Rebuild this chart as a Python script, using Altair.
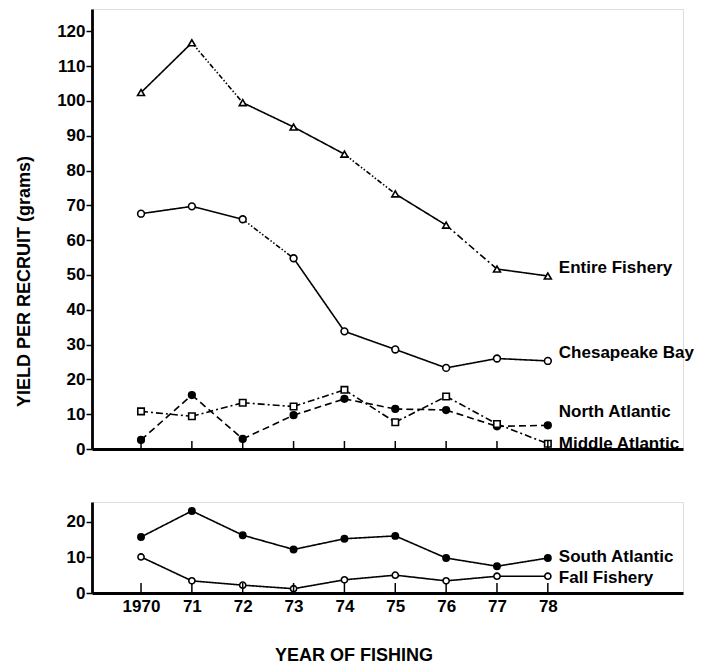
import altair as alt
import pandas as pd

# ---------------- data ----------------
years = [1970, 1971, 1972, 1973, 1974, 1975, 1976, 1977, 1978]
year_labels = ["1970", "71", "72", "73", "74", "75", "76", "77", "78"]

entire_fishery = [102.4, 116.7, 99.5, 92.5, 84.7, 73.3, 64.3, 51.7, 49.7]
chesapeake_bay = [67.6, 69.7, 66.0, 54.8, 33.8, 28.6, 23.3, 26.0, 25.3]
north_atlantic = [2.6, 15.5, 2.9, 9.7, 14.4, 11.5, 11.2, 6.5, 6.8]
middle_atlantic = [10.8, 9.4, 13.3, 12.2, 17.0, 7.7, 15.1, 7.2, 1.5]
south_atlantic = [15.7, 23.0, 16.2, 12.2, 15.2, 16.0, 9.8, 7.5, 9.8]
fall_fishery = [10.1, 3.4, 2.2, 1.2, 3.7, 5.0, 3.4, 4.7, 4.7]

top_series = {
    "Entire Fishery": entire_fishery,
    "Chesapeake Bay": chesapeake_bay,
    "North Atlantic": north_atlantic,
    "Middle Atlantic": middle_atlantic,
}
bottom_series = {
    "South Atlantic": south_atlantic,
    "Fall Fishery": fall_fishery,
}

# ---------------- styles ----------------
FONT = "Liberation Sans"
seg_styles = {
    "Entire Fishery": ["solid", "dashdotdot", "solid", "solid", "dashdotdot", "solid", "dashdot", "solid"],
    "Chesapeake Bay": ["solid", "solid", "dashdotdot", "solid", "solid", "solid", "solid", "solid"],
    "North Atlantic": ["dashed"] * 8,
    "Middle Atlantic": ["dashdot"] * 8,
    "South Atlantic": ["solid"] * 8,
    "Fall Fishery": ["solid"] * 8,
}
dash_domain = ["solid", "dashed", "dashdot", "dashdotdot"]
dash_range = [[1, 0], [7, 4], [7, 3, 2, 3], [5, 2, 1.5, 2, 1.5, 2]]

marker_domain = ["Entire Fishery", "Chesapeake Bay", "North Atlantic", "Middle Atlantic",
                 "South Atlantic", "Fall Fishery"]
marker_shape = ["triangle-up", "circle", "circle", "square", "circle", "circle"]
marker_fill = ["white", "white", "black", "white", "black", "white"]
marker_size = [48, 38, 7, 38, 16, 38]
marker_stroke = [1.6, 1.6, 0.5, 1.6, 0.8, 1.6]

label_dy = {
    "Entire Fishery": -8, "Chesapeake Bay": -8, "North Atlantic": -13,
    "Middle Atlantic": 0, "South Atlantic": -1, "Fall Fishery": 2,
}

W = 591
H_TOP = 440
H_BOT = 91
X_DOMAIN = [1969.036, 1980.658]


def build_frames(series):
    seg_rows, pt_rows, lab_rows = [], [], []
    for name, vals in series.items():
        for i in range(len(years) - 1):
            for j in (i, i + 1):
                seg_rows.append({"series": name, "seg": f"{name}-{i}", "year": years[j],
                                 "value": vals[j], "style": seg_styles[name][i]})
        for yv, v in zip(years, vals):
            pt_rows.append({"series": name, "year": yv, "value": v})
        lab_rows.append({"series": name, "year": years[-1], "value": vals[-1]})
    return pd.DataFrame(seg_rows), pd.DataFrame(pt_rows), pd.DataFrame(lab_rows)


label_expr = " : ".join(
    f"datum.value == {yv} ? '{l}'" for yv, l in zip(years, year_labels)
) + " : ''"

ticks_df = pd.DataFrame({"year": years})

common_y_axis = dict(grid=False, labelFont=FONT, labelFontSize=17, labelFontWeight="bold",
                     labelColor="black", labelPadding=1, labelOverlap=False, tickSize=6,
                     tickWidth=1.5, tickColor="black", domainColor="black", domainWidth=2.8)


def panel(series, height, ymax, yvalues, top):
    segs, pts, labs = build_frames(series)
    if top:
        xaxis = alt.Axis(title=None, labels=False, ticks=False, grid=False,
                         domainColor="black", domainWidth=2.8)
        yaxis = alt.Axis(values=yvalues, title="YIELD PER RECRUIT (grams)",
                         titleX=-68, titleY=272, titleAngle=270, titleAlign="center",
                         titleBaseline="middle", titleFont=FONT, titleFontSize=18,
                         titleFontWeight="bold", titleColor="black", **common_y_axis)
    else:
        xaxis = alt.Axis(title="YEAR OF FISHING", values=years, labelExpr=label_expr,
                         grid=False, ticks=False, tickSize=0, labelPadding=5,
                         labelOverlap=False,
                         labelFont=FONT, labelFontSize=17, labelFontWeight="bold",
                         labelColor="black", labelFlush=False,
                         titleX=261.5, titleY=62, titleAlign="center", titleBaseline="middle",
                         titleFont=FONT, titleFontSize=18, titleFontWeight="bold",
                         titleColor="black", domainColor="black", domainWidth=2.8)
        yaxis = alt.Axis(values=yvalues, title=None, **common_y_axis)

    x = alt.X("year:Q", scale=alt.Scale(domain=X_DOMAIN, nice=False, zero=False), axis=xaxis)
    y = alt.Y("value:Q", scale=alt.Scale(domain=[0, ymax], nice=False), axis=yaxis)

    lines = alt.Chart(segs).mark_line(color="black", strokeWidth=1.6).encode(
        x=x, y=y, detail="seg:N",
        strokeDash=alt.StrokeDash("style:N", scale=alt.Scale(domain=dash_domain, range=dash_range),
                                  legend=None),
    )
    points = alt.Chart(pts).mark_point(filled=True, stroke="black", opacity=1).encode(
        x=x, y=y,
        shape=alt.Shape("series:N", scale=alt.Scale(domain=marker_domain, range=marker_shape), legend=None),
        fill=alt.Fill("series:N", scale=alt.Scale(domain=marker_domain, range=marker_fill), legend=None),
        size=alt.Size("series:N", scale=alt.Scale(domain=marker_domain, range=marker_size), legend=None),
        strokeWidth=alt.StrokeWidth("series:N", scale=alt.Scale(domain=marker_domain, range=marker_stroke),
                                    legend=None),
    )
    tick_len = 8 if top else 10
    xticks = alt.Chart(ticks_df).mark_rule(color="black", strokeWidth=1.5).encode(
        x=x, y=alt.value(height), y2=alt.value(height - tick_len),
    )
    layers = [lines, points, xticks]
    for name in series:
        lab = labs[labs.series == name]
        layers.append(
            alt.Chart(lab).mark_text(align="left", baseline="middle", dx=11, dy=label_dy[name],
                                     font=FONT, fontSize=17, fontWeight="bold", color="black")
            .encode(x=x, y=y, text="series:N")
        )
    return alt.layer(*layers).properties(width=W, height=height)


top = panel(top_series, H_TOP, 126.4, list(range(0, 121, 10)), True)
bottom = panel(bottom_series, H_BOT, 25.5, [0, 10, 20], False)

chart = alt.vconcat(top, bottom, spacing=43).resolve_scale(
    x="independent", y="independent", shape="independent", fill="independent",
    size="independent", strokeDash="independent", strokeWidth="independent"
).properties(
    padding={"left": 6, "top": 0, "right": 0, "bottom": 0}
).configure_view(stroke=None).configure(background="white")

chart.save("out.html", embed_options={"renderer": "svg", "actions": False})
